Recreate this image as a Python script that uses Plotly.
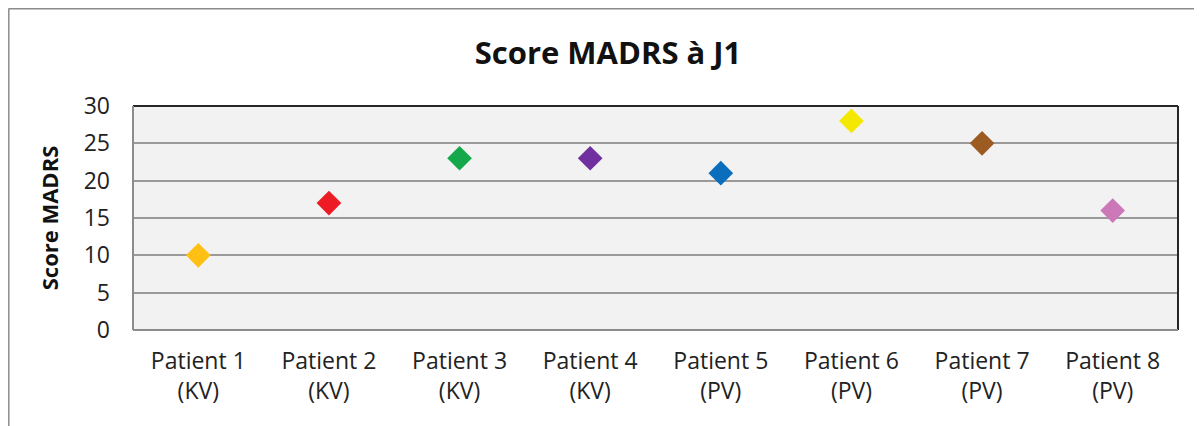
import plotly.graph_objects as go

categories = ["Patient 1<br>(KV)", "Patient 2<br>(KV)", "Patient 3<br>(KV)", "Patient 4<br>(KV)",
              "Patient 5<br>(PV)", "Patient 6<br>(PV)", "Patient 7<br>(PV)", "Patient 8<br>(PV)"]
scores = [10, 17, 23, 23, 21, 28, 25, 16]
colors = ["#FFC013", "#ED1C24", "#13A84A", "#7030A0", "#0A6EBD", "#F5E800", "#9C5B20", "#CC78B8"]
y_ticks = [0, 5, 10, 15, 20, 25, 30]

# page body adds an 8px offset; size the figure so the plot lands where the reference has it
W, H = 1194, 418
L, R, T, B = 125, 24, 98, 96
pw, ph = W - L - R, H - T - B

def px_x(px):
    return (px - L) / pw

def px_y(py):
    return (H - B - py) / ph

fig = go.Figure()
fig.add_trace(go.Scatter(
    x=categories, y=scores, mode="markers",
    marker=dict(symbol="diamond", size=19, color=colors, line=dict(width=0)),
    showlegend=False, hoverinfo="x+y",
))

font = "Open Sans, Liberation Sans, sans-serif"
fig.update_layout(
    width=W, height=H,
    margin=dict(l=L, r=R, t=T, b=B),
    paper_bgcolor="white",
    plot_bgcolor="#F2F2F2",
    title=dict(text="<b>Score MADRS à J1</b>", x=(608 - 8) / W, xanchor="center",
               y=1 - 45 / H, yanchor="middle",
               font=dict(family=font, size=31, color="#111")),
    xaxis=dict(
        type="category", range=[-0.5, 7.5], showgrid=False, zeroline=False,
        tickfont=dict(family=font, size=23, color="#222"), ticks="", showline=False,
        ticklabelstandoff=15, fixedrange=True,
    ),
    yaxis=dict(
        range=[0, 30], tickvals=y_ticks, showgrid=True, gridcolor="#9A9A9A", gridwidth=1.5,
        zeroline=False, showline=False, ticks="",
        tickfont=dict(family=font, size=23, color="#222"), ticklabelstandoff=22,
        title=dict(text="<b>Score MADRS</b>", font=dict(family=font, size=22, color="#111"), standoff=18),
        fixedrange=True,
    ),
)

# plot area border (3D-like: dark top/right, gray left/bottom)
fig.add_shape(type="line", xref="paper", yref="paper", x0=0, x1=1, y0=1, y1=1, line=dict(color="#262626", width=2))
fig.add_shape(type="line", xref="paper", yref="paper", x0=1, x1=1, y0=0, y1=1, line=dict(color="#262626", width=2))
fig.add_shape(type="line", xref="paper", yref="paper", x0=0, x1=0, y0=0, y1=1, line=dict(color="#8C8C8C", width=2))
fig.add_shape(type="line", xref="paper", yref="paper", x0=0, x1=1, y0=0, y1=0, line=dict(color="#8C8C8C", width=2))

# outer chart border (top and left visible)
fig.add_shape(type="line", xref="paper", yref="paper", x0=px_x(0.5), x1=px_x(W + 1), y0=px_y(0.8), y1=px_y(0.8),
              line=dict(color="#8C8C8C", width=1.5))
fig.add_shape(type="line", xref="paper", yref="paper", x0=px_x(0.8), x1=px_x(0.8), y0=px_y(0.5), y1=px_y(H + 1),
              line=dict(color="#8C8C8C", width=1.5))

fig.write_html("out.html")
